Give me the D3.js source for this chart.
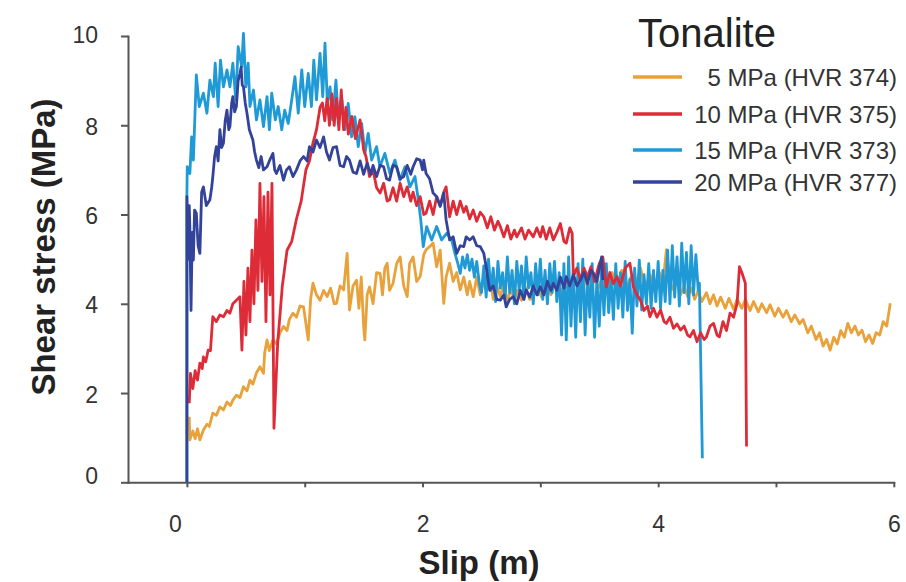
<!DOCTYPE html>
<html>
<head>
<meta charset="utf-8">
<script src="https://cdn.jsdelivr.net/npm/d3@7/dist/d3.min.js"></script>
<style>
  html, body { margin: 0; padding: 0; background: #fff; }
  svg { display: block; font-family: "Liberation Sans", Arial, Helvetica, sans-serif; }
</style>
</head>
<body>
<svg id="chart" width="906" height="582"></svg>
<script>
// Shear stress vs slip, tonalite runs at four normal stresses. [slip (m), shear stress (MPa)]
const run374 = [
  [0.02,1.47],[0.025,0.95],[0.05,1.15],[0.07,0.98],[0.09,1.2],[0.11,0.95],[0.14,1.17],[0.17,1.3],[0.19,1.25],
  [0.22,1.55],[0.25,1.5],[0.28,1.69],[0.31,1.62],[0.34,1.8],[0.37,1.72],[0.39,1.84],[0.42,1.95],[0.45,1.9],
  [0.48,2.14],[0.51,2.05],[0.535,2.29],[0.56,2.2],[0.59,2.45],[0.62,2.59],[0.65,2.44],[0.66,2.9],[0.68,3.19],
  [0.70,2.95],[0.73,3.19],[0.76,3.1],[0.79,3.35],[0.82,3.49],[0.85,3.4],[0.87,3.65],[0.90,3.79],[0.93,3.7],
  [0.96,3.95],[0.99,3.93],[1.03,3.19],[1.05,4.1],[1.07,4.46],[1.10,4.2],[1.13,4.08],[1.16,4.3],[1.19,4.16],
  [1.22,4.35],[1.25,4.0],[1.27,4.01],[1.30,4.4],[1.33,4.31],[1.36,5.13],[1.38,3.86],[1.41,4.4],[1.44,4.53],
  [1.46,3.9],[1.48,4.6],[1.50,3.49],[1.51,3.19],[1.53,4.2],[1.55,4.38],[1.58,4.0],[1.61,4.7],[1.64,4.68],
  [1.66,4.2],[1.68,4.8],[1.70,4.91],[1.72,4.3],[1.75,4.46],[1.78,4.9],[1.81,5.05],[1.84,4.4],[1.87,4.16],
  [1.89,4.9],[1.92,5.05],[1.95,4.5],[1.98,4.61],[2.01,5.1],[2.03,5.21],[2.06,5.28],[2.09,5.36],[2.12,4.83],
  [2.15,5.2],[2.18,4.01],[2.20,4.6],[2.23,4.91],[2.26,4.5],[2.29,4.7],[2.32,4.31],[2.35,4.6],[2.38,4.2],
  [2.40,4.5],[2.43,4.16],[2.46,4.6],[2.49,4.2],[2.52,4.5],[2.54,4.31],[2.57,4.6],[2.60,4.1],[2.63,4.4],
  [2.66,4.16],[2.69,4.45],[2.72,4.05],[2.75,4.35],[2.78,4.05],[2.80,4.3],[2.84,4.08],[2.87,4.4],[2.91,4.1],
  [2.94,4.16],[2.97,4.45],[3.01,4.15],[3.05,4.5],[3.09,4.2],[3.13,4.55],[3.17,4.2],[3.21,4.5],[3.25,4.25],
  [3.29,4.6],[3.33,4.3],[3.37,4.65],[3.41,4.3],[3.45,4.7],[3.49,4.35],[3.53,4.6],[3.57,4.3],[3.61,4.7],
  [3.65,4.35],[3.69,4.75],[3.73,4.35],[3.77,4.6],[3.81,4.4],[3.85,4.8],[3.89,4.35],[3.93,4.65],[3.97,4.4],
  [4.01,4.7],[4.04,4.45],[4.07,5.21],[4.10,4.5],[4.13,4.31],[4.16,4.5],[4.19,4.2],[4.22,4.4],[4.25,4.16],
  [4.28,4.35],[4.31,4.1],[4.34,4.3],[4.37,4.05],[4.41,4.25],[4.44,4.0],[4.47,4.2],[4.50,3.95],[4.53,4.15],
  [4.57,3.9],[4.60,4.12],[4.64,3.88],[4.67,4.1],[4.71,3.9],[4.74,4.1],[4.78,3.85],[4.81,4.05],[4.85,3.82],
  [4.88,4.0],[4.92,3.8],[4.95,3.98],[4.99,3.72],[5.02,3.9],[5.06,3.7],[5.09,3.85],[5.13,3.6],[5.16,3.75],
  [5.20,3.55],[5.23,3.65],[5.27,3.35],[5.30,3.5],[5.34,3.2],[5.37,3.35],[5.40,3.05],[5.43,3.2],[5.46,2.96],
  [5.49,3.25],[5.52,3.1],[5.55,3.4],[5.58,3.25],[5.61,3.56],[5.64,3.35],[5.67,3.5],[5.70,3.3],[5.73,3.41],
  [5.76,3.15],[5.79,3.3],[5.82,3.11],[5.85,3.35],[5.88,3.3],[5.91,3.6],[5.94,3.5],[5.97,4.01]
];

const run375 = [
  [0.02,1.77],[0.03,2.44],[0.05,2.1],[0.07,2.5],[0.09,2.29],[0.11,2.67],[0.13,2.55],[0.14,2.81],[0.16,2.7],
  [0.18,2.96],[0.20,2.95],[0.21,3.34],[0.22,3.71],[0.25,3.6],[0.28,3.75],[0.31,3.71],[0.34,3.85],[0.365,3.79],
  [0.39,4.0],[0.42,4.08],[0.45,4.16],[0.467,2.96],[0.484,4.5],[0.501,3.3],[0.518,4.8],[0.535,3.6],[0.552,5.2],
  [0.569,4.0],[0.586,5.88],[0.603,4.3],[0.62,6.7],[0.637,4.5],[0.654,6.4],[0.671,3.6],[0.688,6.5],[0.705,4.2],
  [0.722,6.7],[0.739,1.21],[0.77,3.1],[0.81,4.4],[0.85,5.2],[0.89,5.4],[0.93,5.9],[0.97,6.3],[1.01,7.0],
  [1.04,7.2],[1.07,7.6],[1.10,7.9],[1.13,8.4],[1.15,8.5],[1.17,8.1],[1.19,8.6],[1.21,8.0],[1.23,8.7],[1.25,8.0],
  [1.27,8.6],[1.29,7.9],[1.31,8.79],[1.33,7.9],[1.35,8.4],[1.37,7.8],[1.40,8.2],[1.43,7.7],[1.47,8.12],
  [1.50,7.45],[1.52,7.3],[1.55,6.85],[1.58,7.0],[1.61,6.6],[1.64,6.48],[1.67,6.7],[1.70,6.3],[1.72,6.33],
  [1.75,6.6],[1.78,6.3],[1.81,6.7],[1.84,6.4],[1.87,6.62],[1.90,6.3],[1.92,6.5],[1.95,6.2],[1.98,6.4],
  [2.01,6.0],[2.03,6.03],[2.06,6.3],[2.09,6.0],[2.12,6.4],[2.15,6.2],[2.18,6.5],[2.20,6.62],[2.23,5.95],
  [2.26,6.3],[2.29,6.0],[2.32,6.3],[2.35,6.05],[2.37,6.18],[2.40,5.9],[2.43,6.1],[2.46,5.85],[2.49,6.05],
  [2.52,5.95],[2.55,5.7],[2.58,5.95],[2.61,5.65],[2.64,5.85],[2.66,5.73],[2.69,5.5],[2.72,5.75],[2.75,5.45],
  [2.78,5.65],[2.80,5.50],[2.84,5.7],[2.87,5.45],[2.90,5.65],[2.94,5.50],[2.97,5.7],[3.00,5.5],[3.02,5.73],
  [3.05,5.45],[3.08,5.7],[3.11,5.43],[3.14,5.6],[3.17,5.80],[3.20,5.4],[3.22,5.36],[3.25,5.7],[3.27,5.58],
  [3.28,4.61],[3.31,4.8],[3.34,4.55],[3.37,4.8],[3.40,4.6],[3.43,4.83],[3.46,4.5],[3.50,4.9],[3.53,5.05],
  [3.56,4.38],[3.59,4.7],[3.62,4.45],[3.65,4.61],[3.68,4.4],[3.72,4.8],[3.76,4.91],[3.79,4.38],[3.82,4.2],
  [3.85,4.08],[3.88,3.85],[3.91,3.95],[3.93,3.71],[3.96,3.9],[3.99,3.7],[4.02,3.86],[4.05,3.6],[4.07,3.56],
  [4.10,3.7],[4.13,3.45],[4.16,3.55],[4.19,3.41],[4.22,3.5],[4.25,3.3],[4.27,3.26],[4.30,3.4],[4.33,3.15],
  [4.36,3.35],[4.39,3.2],[4.41,3.26],[4.44,3.5],[4.47,3.56],[4.50,3.3],[4.52,3.26],[4.55,3.6],[4.58,3.4],
  [4.61,3.79],[4.64,3.7],[4.67,4.01],[4.69,4.83],[4.71,4.7],[4.74,4.46],[4.75,0.80]
];

const run373 = [
  [0,0],[0,6.48],[0.003,7.07],[0.025,6.92],[0.04,7.74],[0.055,7.22],[0.08,9.13],[0.105,8.42],[0.14,8.72],
  [0.17,8.27],[0.195,9.01],[0.225,8.64],[0.24,9.39],[0.265,8.42],[0.285,9.46],[0.31,8.86],[0.34,9.24],
  [0.365,8.86],[0.39,9.39],[0.415,8.57],[0.435,9.76],[0.465,9.31],[0.48,10.06],[0.50,8.86],[0.52,9.39],
  [0.535,8.42],[0.565,8.79],[0.59,8.12],[0.62,8.57],[0.65,7.97],[0.68,8.64],[0.70,7.90],[0.72,8.72],
  [0.75,8.12],[0.775,8.42],[0.805,7.90],[0.83,8.34],[0.86,8.04],[0.89,8.57],[0.917,9.09],[0.945,8.27],
  [0.975,9.24],[1.0,8.42],[1.03,9.16],[1.057,8.42],[1.077,9.46],[1.10,8.57],[1.13,9.61],[1.153,8.64],
  [1.172,9.84],[1.192,8.49],[1.215,8.86],[1.237,8.12],[1.265,9.01],[1.285,8.12],[1.313,8.64],[1.341,7.90],
  [1.369,8.49],[1.398,7.74],[1.426,8.19],[1.454,7.52],[1.483,8.04],[1.511,7.37],[1.539,7.82],[1.568,7.22],
  [1.61,7.52],[1.638,7.07],[1.68,7.37],[1.723,6.92],[1.766,7.22],[1.808,6.77],[1.851,7.07],[1.893,6.62],
  [1.936,6.85],[1.964,6.33],[1.985,5.88],[2.006,5.28],[2.035,5.73],[2.077,5.43],[2.12,5.73],[2.162,5.43],
  [2.205,5.58],[2.247,5.43],[2.275,5.13],[2.30,4.9],[2.32,4.68],[2.34,5.05],[2.36,4.8],[2.38,5.1],[2.40,4.75],
  [2.42,5.0],[2.44,4.6],[2.46,4.95],[2.48,4.5],[2.50,4.25],[2.52,4.85],[2.54,4.15],[2.56,5.0],[2.58,4.3],
  [2.60,4.8],[2.62,4.05],[2.64,4.95],[2.66,4.35],[2.68,4.7],[2.70,4.1],[2.72,5.05],[2.74,4.25],[2.76,4.75],
  [2.78,4.0],[2.80,4.95],[2.82,4.3],[2.84,4.85],[2.86,4.1],[2.88,5.05],[2.90,4.35],[2.92,4.7],[2.94,4.0],
  [2.96,4.9],[2.98,4.2],[3.00,5.0],[3.02,4.1],[3.04,4.75],[3.06,4.0],[3.08,4.9],[3.10,4.25],[3.12,4.95],
  [3.14,4.05],[3.16,4.7],[3.18,3.3],[3.20,4.9],[3.22,3.19],[3.24,5.05],[3.26,3.5],[3.28,4.75],[3.30,3.25],
  [3.32,4.9],[3.34,3.6],[3.36,5.0],[3.38,3.3],[3.40,4.6],[3.42,3.7],[3.44,4.9],[3.46,3.25],[3.48,4.55],
  [3.50,3.5],[3.52,4.8],[3.54,3.75],[3.56,4.9],[3.58,3.8],[3.60,4.6],[3.62,3.65],[3.64,4.9],[3.66,3.9],
  [3.68,4.7],[3.70,3.7],[3.72,4.95],[3.74,3.85],[3.76,4.55],[3.78,3.34],[3.80,4.8],[3.82,3.95],[3.84,4.98],
  [3.86,3.86],[3.88,4.65],[3.90,4.0],[3.92,4.9],[3.94,3.9],[3.96,4.75],[3.98,4.05],[4.00,4.95],[4.02,3.9],
  [4.04,4.75],[4.06,4.05],[4.08,5.2],[4.10,4.0],[4.12,5.3],[4.14,4.15],[4.16,5.05],[4.18,3.95],[4.20,5.36],
  [4.22,4.25],[4.24,5.15],[4.26,4.0],[4.28,5.3],[4.30,4.2],[4.32,5.1],[4.34,4.3],[4.35,4.46],[4.375,0.54]
];

const run377 = [
  [0,0],[0,6.4],[0.01,5.0],[0.02,6.2],[0.025,5.73],[0.035,3.85],[0.045,5.6],[0.055,4.98],[0.065,6.1],
  [0.08,6.03],[0.095,5.3],[0.11,5.13],[0.125,6.5],[0.14,6.62],[0.165,6.2],[0.195,6.33],[0.21,6.6],[0.22,6.85],
  [0.235,7.3],[0.25,7.52],[0.265,7.2],[0.28,7.90],[0.295,7.5],[0.31,7.60],[0.325,8.1],[0.34,8.34],[0.355,7.9],
  [0.365,7.97],[0.38,8.5],[0.39,8.64],[0.405,8.3],[0.42,8.42],[0.435,9.0],[0.45,9.16],[0.46,9.3],[0.47,8.9],
  [0.48,8.86],[0.495,8.5],[0.51,8.27],[0.53,7.9],[0.56,7.67],[0.575,7.4],[0.59,7.22],[0.61,7.05],[0.63,7.3],
  [0.65,7.0],[0.68,7.07],[0.70,7.2],[0.73,7.37],[0.745,7.0],[0.76,6.92],[0.79,7.1],[0.82,6.77],[0.845,7.0],
  [0.87,7.07],[0.90,6.85],[0.93,7.00],[0.96,7.2],[0.99,7.30],[1.02,7.2],[1.04,7.52],[1.07,7.4],[1.10,7.67],
  [1.13,7.5],[1.16,7.74],[1.185,7.4],[1.21,7.22],[1.24,7.5],[1.27,7.52],[1.30,7.1],[1.33,7.07],[1.355,7.3],
  [1.38,7.22],[1.41,6.95],[1.44,6.92],[1.47,7.2],[1.50,6.9],[1.53,7.15],[1.56,6.9],[1.58,7.1],[1.61,6.85],
  [1.64,7.1],[1.67,7.07],[1.695,6.8],[1.72,6.77],[1.75,7.1],[1.78,7.07],[1.81,6.8],[1.84,6.85],[1.87,7.1],
  [1.90,6.9],[1.92,7.07],[1.95,7.25],[1.98,7.22],[2.00,7.0],[2.01,7.22],[2.03,6.92],[2.06,6.8],[2.09,6.48],
  [2.12,6.4],[2.15,6.18],[2.18,6.48],[2.20,5.88],[2.23,5.43],[2.26,5.5],[2.29,5.13],[2.32,5.3],[2.35,5.28],
  [2.37,5.5],[2.40,5.43],[2.43,5.50],[2.46,5.3],[2.49,5.28],[2.52,5.13],[2.54,4.83],[2.57,4.3],[2.60,4.4],
  [2.63,4.1],[2.66,4.08],[2.69,4.2],[2.71,3.93],[2.74,4.1],[2.77,4.16],[2.80,4.0],[2.83,4.3],[2.86,4.1],
  [2.88,4.31],[2.91,4.15],[2.94,4.4],[2.97,4.2],[3.00,4.38],[3.03,4.2],[3.06,4.5],[3.09,4.3],[3.11,4.46],
  [3.14,4.3],[3.17,4.6],[3.20,4.35],[3.22,4.61],[3.25,4.4],[3.28,4.65],[3.31,4.4],[3.34,4.53],[3.37,4.7],
  [3.40,4.45],[3.43,4.75],[3.45,4.68],[3.48,4.5],[3.52,5.05],[3.53,4.53]
];

const seriesNames = ["5 MPa (HVR 374)", "10 MPa (HVR 375)", "15 MPa (HVR 373)", "20 MPa (HVR 377)"];
const seriesColors = ["#e9a23b", "#dd2c37", "#1f9ad6", "#34439a"];
const seriesData = [run374, run375, run373, run377];
const drawOrder = [0, 2, 1, 3];

const xTicks = [0, 1, 2, 3, 4, 5, 6];
const xTickLabels = ["0", "", "2", "", "4", "", "6"];
const yTicks = [0, 2, 4, 6, 8, 10];
const legendTitle = "Tonalite";
const xTitle = "Slip (m)";
const yTitle = "Shear stress (MPa)";

const svg = d3.select("#chart");
const x = d3.scaleLinear().domain([-0.5, 6]).range([128, 893.8]);
const y = d3.scaleLinear().domain([0, 10]).range([482.3, 36]);

const axisColor = "#555";
const textColor = "#333";

// x axis
const gx = svg.append("g").attr("transform", `translate(0,${y(0)})`)
  .call(d3.axisBottom(x).tickValues(xTicks).tickSize(5).tickSizeOuter(0)
    .tickFormat((d, i) => xTickLabels[i]));
gx.select(".domain").attr("stroke", axisColor).attr("stroke-width", 2);
gx.selectAll(".tick line").attr("stroke", axisColor).attr("stroke-width", 2);
gx.selectAll(".tick text")
  .attr("fill", textColor).attr("font-size", 23).attr("y", 33).attr("dy", "0.71em")
  .attr("dx", d => d === 0 ? -12 : 0);

// y axis
const gy = svg.append("g").attr("transform", `translate(${x(-0.5)},0)`)
  .call(d3.axisLeft(y).tickValues(yTicks).tickSize(7).tickSizeOuter(0));
gy.select(".domain").attr("stroke", axisColor).attr("stroke-width", 2);
gy.selectAll(".tick line").attr("stroke", axisColor).attr("stroke-width", 2);
gy.selectAll(".tick text")
  .attr("fill", textColor).attr("font-size", 23).attr("x", -30)
  .attr("dy", d => d === 0 ? "0.05em" : (d === 10 ? "0.27em" : "0.4em"));
svg.selectAll(".domain").attr("stroke-linecap", "square");

// curves
const line = d3.line().x(d => x(d[0])).y(d => y(d[1]));
drawOrder.forEach(i => {
  svg.append("path")
    .datum(seriesData[i])
    .attr("d", line)
    .attr("fill", "none")
    .attr("stroke", seriesColors[i])
    .attr("stroke-width", 2.8)
    .attr("stroke-linejoin", "round");
});

// axis titles
svg.append("text")
  .attr("x", 479).attr("y", 574)
  .attr("text-anchor", "middle")
  .attr("font-weight", "bold").attr("font-size", 33).attr("fill", "#222")
  .text(xTitle);
svg.append("text")
  .attr("transform", "translate(55,247) rotate(-90)")
  .attr("text-anchor", "middle")
  .attr("font-weight", "bold").attr("font-size", 33).attr("fill", "#222")
  .text(yTitle);

// legend
const legend = svg.append("g");
legend.append("text")
  .attr("x", 638).attr("y", 47)
  .attr("font-size", 40).attr("fill", "#222")
  .text(legendTitle);
const legendY = [77, 114, 150, 182];
seriesNames.forEach((name, i) => {
  legend.append("line")
    .attr("x1", 633).attr("x2", 682)
    .attr("y1", legendY[i]).attr("y2", legendY[i])
    .attr("stroke", seriesColors[i]).attr("stroke-width", 3.5);
  legend.append("text")
    .attr("x", 897).attr("y", legendY[i])
    .attr("dy", "0.36em")
    .attr("text-anchor", "end")
    .attr("font-size", 24).attr("fill", textColor)
    .text(name);
});
</script>
</body>
</html>
